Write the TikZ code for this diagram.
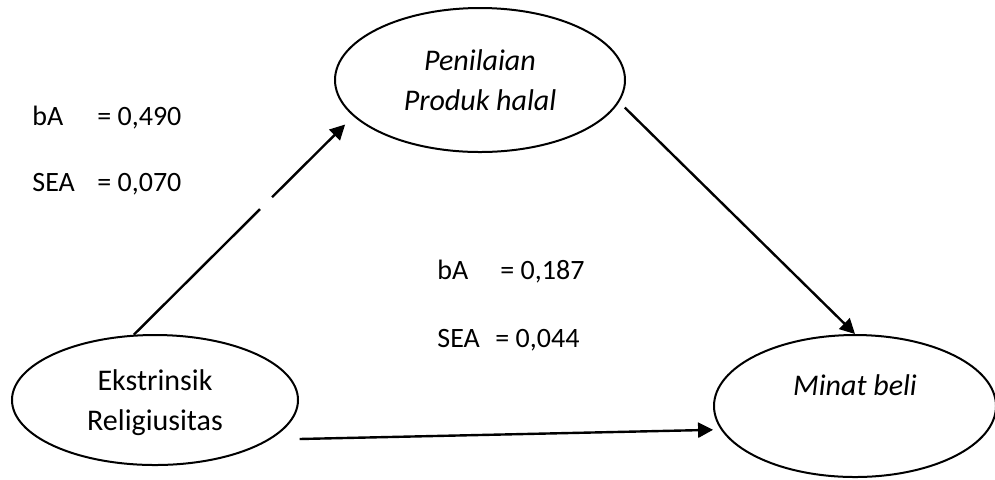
\documentclass[tikz,border=0pt]{standalone}
\usepackage{fontspec}
\setmainfont{Carlito}
\usetikzlibrary{arrows.meta,shapes.geometric}
\tikzset{
  var/.style={draw, ellipse, line width=1pt, inner sep=3pt, align=center, font=\fontsize{15pt}{20pt}\selectfont},
  conn/.style={line width=1.2pt, -{Triangle[length=7.5pt,width=7.5pt]}},
  lbl/.style={anchor=base west, inner sep=0pt, font=\fontsize{14pt}{17pt}\selectfont}
}
\begin{document}
\begin{tikzpicture}[x=0.5pt,y=-0.5pt]
\useasboundingbox (0,0) rectangle (995,479);
\node[var, minimum width=145pt, minimum height=72pt] (pe) at (480,80) {\itshape Penilaian\\\itshape Produk halal};
\node[var, minimum width=143pt, minimum height=65pt, text depth=0pt] (ek) at (155,400) {Ekstrinsik\\Religiusitas};
\node[var, minimum width=141pt, minimum height=71pt, text height=10.5pt, text depth=21.5pt] (mb) at (855,406) {\itshape Minat beli};
\draw[conn, dash pattern=on 89pt off 8.5pt on 300pt, shorten >=5.8pt] (ek.108.7) -- (pe.196.4);
\draw[conn, shorten <=3.9pt] (pe.-9.3) -- (mb.north);
\draw[conn, shorten <=14.8pt, shorten >=3.9pt] (ek.-19.2) -- (mb.190.7);
\node[lbl] (l1) at (32,125) {\makebox[32.5pt][l]{bA}= 0,490};
\node[lbl] (l2) at (32,191) {\makebox[32.5pt][l]{SEA}= 0,070};
\node[lbl] (l3) at (437,279) {\makebox[31.5pt][l]{bA}= 0,187};
\node[lbl] (l4) at (437,347) {\makebox[29pt][l]{SEA}= 0,044};
\end{tikzpicture}
\end{document}
